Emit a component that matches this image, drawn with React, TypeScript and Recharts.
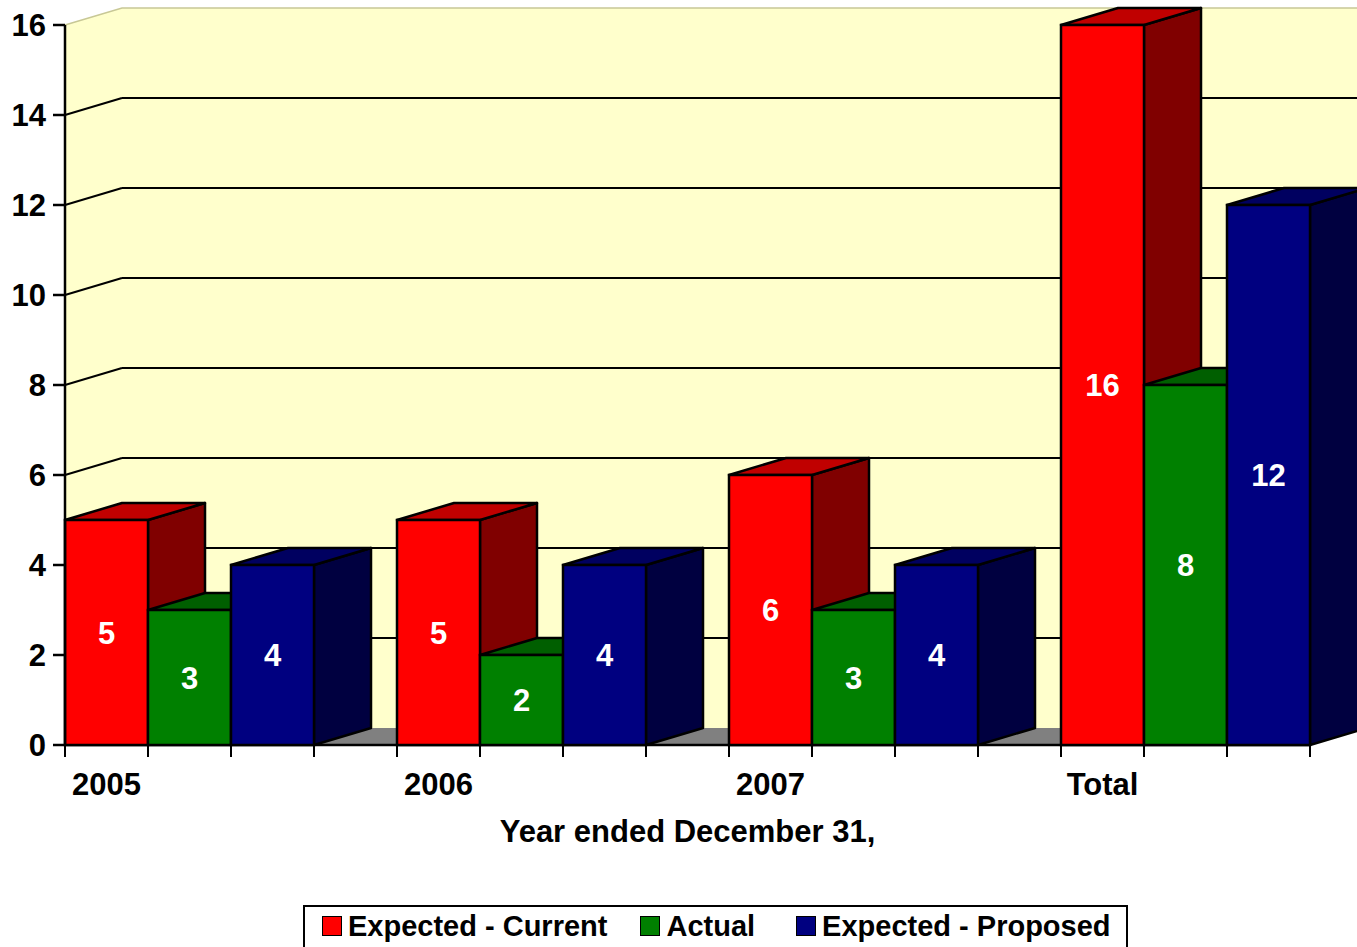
import React from 'react';
import { BarChart, Bar, XAxis, YAxis, ReferenceArea, Legend, Label } from 'recharts';

// ---------- data ----------
const CATEGORIES = ['2005', '2006', '2007', 'Total'];
const EXPECTED_CURRENT = [5, 5, 6, 16];
const ACTUAL = [3, 2, 3, 8];
const EXPECTED_PROPOSED = [4, 4, 4, 12];
const Y_TICKS = [0, 2, 4, 6, 8, 10, 12, 14, 16];
const SERIES_NAMES = ['Expected - Current', 'Actual', 'Expected - Proposed'];
const X_TITLE = 'Year ended December 31,';

// ---------- style ----------
const FONT = "'Liberation Sans', Arial, Helvetica, sans-serif";
const SLOTS = 4; // three bars + one empty slot per category
const DX = 57;
const DY = 17;
const WALL = '#FFFFCC';
const FLOOR = '#808080';
const EDGE = '#C8C896';
const RED = ['#FF0000', '#C00000', '#800000'];
const GREEN = ['#008000', '#005F00', '#004000'];
const BLUE = ['#000080', '#000060', '#000040'];
const LEGEND_GAPS = [0, 33, 41];

const rows = CATEGORIES.map((c, i) => ({
  category: c,
  current: EXPECTED_CURRENT[i],
  actual: ACTUAL[i],
  proposed: EXPECTED_PROPOSED[i],
  spacer: 0,
}));

const Backdrop = (props: any) => {
  const { x, y, width, height } = props;
  const bottom = y + height;
  const totalSlots = CATEGORIES.length * SLOTS;
  const slot = width / totalSlots;
  const frontRight = x + slot * (totalSlots - 1);
  const yMax = Y_TICKS[Y_TICKS.length - 1];
  const yOf = (v: number) => bottom - (v / yMax) * height;
  const ticks = [];
  for (let i = 0; i < totalSlots; i++) {
    const tx = x + i * slot;
    ticks.push(<line key={'t' + i} x1={tx} y1={bottom} x2={tx} y2={bottom + 12} stroke="#000" strokeWidth={2} />);
  }
  return (
    <g>
      <polygon points={`${x},${y} ${x + DX},${y - DY} ${x + DX},${bottom - DY} ${x},${bottom}`} fill={WALL} />
      <rect x={x + DX} y={y - DY} width={frontRight - x} height={height} fill={WALL} />
      <polygon
        points={`${x},${bottom} ${x + DX},${bottom - DY} ${frontRight + DX},${bottom - DY} ${frontRight},${bottom}`}
        fill={FLOOR}
      />
      {Y_TICKS.filter((v) => v > 0 && v < yMax).map((v) => (
        <g key={'g' + v}>
          <line x1={x} y1={yOf(v)} x2={x + DX} y2={yOf(v) - DY} stroke="#000" strokeWidth={2} />
          <line x1={x + DX} y1={yOf(v) - DY} x2={frontRight + DX} y2={yOf(v) - DY} stroke="#000" strokeWidth={2} />
        </g>
      ))}
      <polyline
        points={`${x},${y} ${x + DX},${y - DY} ${frontRight + DX},${y - DY}`}
        fill="none"
        stroke={EDGE}
        strokeWidth={1.5}
      />
      <line x1={x} y1={bottom} x2={frontRight} y2={bottom} stroke="#000" strokeWidth={2.5} />
      {ticks}
    </g>
  );
};

const make3D = (top: string, side: string) => (props: any) => {
  const { x, y, width, height, fill } = props;
  if (!height || height <= 0) return <g />;
  const r = x + width;
  const b = y + height;
  return (
    <g>
      <polygon
        points={`${r},${y} ${r + DX},${y - DY} ${r + DX},${b - DY} ${r},${b}`}
        fill={side}
        stroke="#000"
        strokeWidth={2.5}
        strokeLinejoin="round"
      />
      <polygon
        points={`${x},${y} ${x + DX},${y - DY} ${r + DX},${y - DY} ${r},${y}`}
        fill={top}
        stroke="#000"
        strokeWidth={2.5}
        strokeLinejoin="round"
      />
      <rect x={x} y={y} width={width} height={height} fill={fill} stroke="#000" strokeWidth={2.5} />
    </g>
  );
};

const EmptyShape = () => <g />;

const CategoryTick = (props: any) => {
  const { x, y, payload, width, visibleTicksCount } = props;
  const band = width && visibleTicksCount ? width / visibleTicksCount : 0;
  const slot = band / SLOTS;
  const cx = x - band / 2 + slot / 2;
  return (
    <text x={cx} y={y + 50} textAnchor="middle" fontSize={31} fontWeight="bold" fontFamily={FONT} fill="#000">
      {payload.value}
    </text>
  );
};

const AxisTitle = (props: any) => {
  const vb = props.viewBox || {};
  const totalSlots = CATEGORIES.length * SLOTS;
  const cx = vb.x + (vb.width * (totalSlots - 1)) / totalSlots / 2;
  return (
    <text x={cx} y={vb.y + 97} textAnchor="middle" fontSize={31} fontWeight="bold" fontFamily={FONT} fill="#000">
      {X_TITLE}
    </text>
  );
};

const LegendBox = (props: any) => {
  const items = (props.payload || [])
    .filter((p: any) => p.type !== 'none' && SERIES_NAMES.indexOf(p.value) >= 0)
    .slice()
    .sort((a: any, b: any) => SERIES_NAMES.indexOf(a.value) - SERIES_NAMES.indexOf(b.value));
  return (
    <div
      style={{
        display: 'flex',
        alignItems: 'flex-start',
        border: '2px solid #000',
        boxSizing: 'border-box',
        height: 52,
        padding: '9px 15px 0 17px',
        background: '#fff',
        fontFamily: FONT,
        fontWeight: 'bold',
        fontSize: 29,
        lineHeight: '20px',
        whiteSpace: 'nowrap',
      }}
    >
      {items.map((it: any, i: number) => (
        <div key={i} style={{ display: 'flex', alignItems: 'flex-start', marginLeft: LEGEND_GAPS[i] || 0 }}>
          <div
            style={{
              width: 20,
              height: 20,
              boxSizing: 'border-box',
              border: '1.5px solid #000',
              background: it.color,
              marginRight: 6,
            }}
          />
          <span style={{ color: '#000' }}>{it.value}</span>
        </div>
      ))}
    </div>
  );
};

const barLabel = { position: 'center' as const, fill: '#FFFFFF', fontSize: 31, fontWeight: 'bold', fontFamily: FONT };

export default function App() {
  return (
    <div style={{ position: 'absolute', left: 0, top: 0, width: 1357, height: 947, overflow: 'hidden', background: '#fff' }}>
      <BarChart
        width={1393}
        height={947}
        data={rows}
        margin={{ top: 25, right: 0, bottom: 0, left: 0 }}
        barCategoryGap={0}
        barGap={0}
      >
        <ReferenceArea y1={0} y2={16} shape={Backdrop} ifOverflow="visible" />
        <XAxis
          dataKey="category"
          height={202}
          axisLine={false}
          tickLine={false}
          tickSize={0}
          tickMargin={0}
          interval={0}
          tick={CategoryTick}
        >
          <Label content={AxisTitle} />
        </XAxis>
        <YAxis
          width={65}
          domain={[0, 16]}
          ticks={Y_TICKS}
          interval={0}
          tickSize={12}
          tickMargin={7}
          axisLine={{ stroke: '#000', strokeWidth: 2.5 }}
          tickLine={{ stroke: '#000', strokeWidth: 2.5 }}
          tick={{ fill: '#000', fontSize: 31, fontWeight: 'bold', fontFamily: FONT }}
        />
        <Bar dataKey="current" name={SERIES_NAMES[0]} fill={RED[0]} shape={make3D(RED[1], RED[2])} label={barLabel} isAnimationActive={false} />
        <Bar dataKey="actual" name={SERIES_NAMES[1]} fill={GREEN[0]} shape={make3D(GREEN[1], GREEN[2])} label={barLabel} isAnimationActive={false} />
        <Bar dataKey="proposed" name={SERIES_NAMES[2]} fill={BLUE[0]} shape={make3D(BLUE[1], BLUE[2])} label={barLabel} isAnimationActive={false} />
        <Bar dataKey="spacer" legendType="none" fill="none" shape={EmptyShape} isAnimationActive={false} />
        <Legend
          layout="horizontal"
          verticalAlign="middle"
          align="center"
          wrapperStyle={{ left: 303, top: 905, width: 'auto', height: 'auto', right: 'auto', bottom: 'auto' }}
          content={LegendBox}
        />
      </BarChart>
    </div>
  );
}
